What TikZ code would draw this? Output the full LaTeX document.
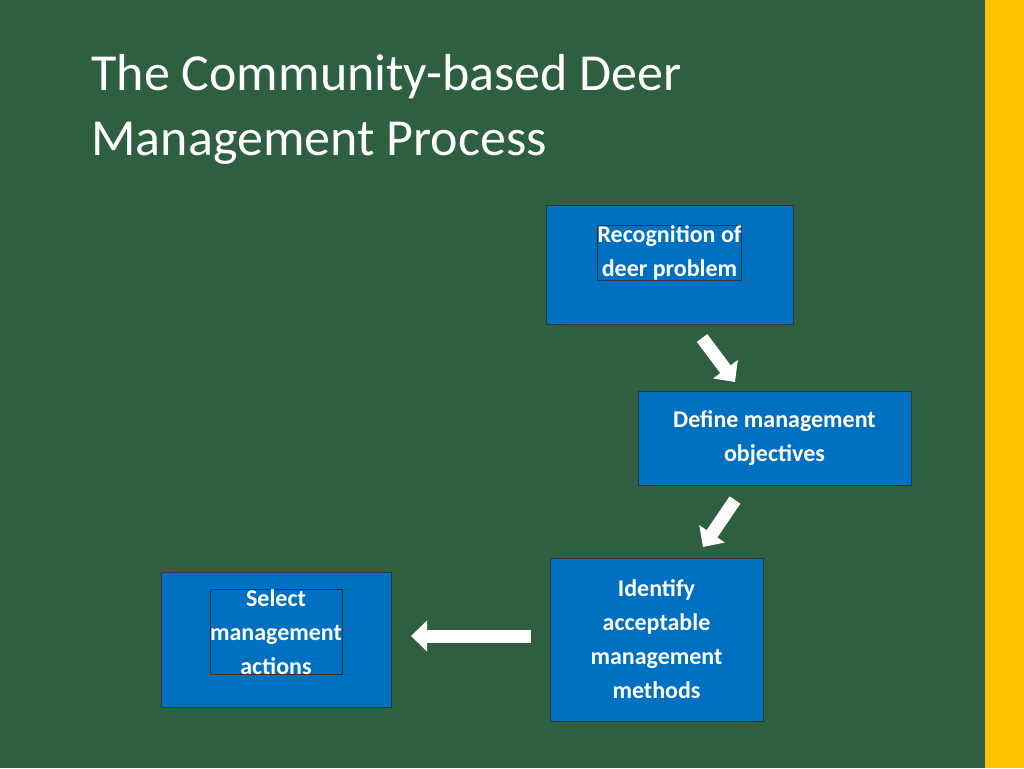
\documentclass[tikz,border=0pt]{standalone}
\usepackage{fontspec}
\setmainfont{Carlito}
\usetikzlibrary{arrows.meta}
\definecolor{bg}{HTML}{2E5F41}
\definecolor{bar}{HTML}{FFC000}
\definecolor{boxblue}{HTML}{0070C0}
\tikzset{
 pbox/.style={draw=black!80,line width=0.8pt,fill=boxblue,align=center,text=white,font=\fontsize{24}{34}\selectfont\bfseries,inner sep=0pt},
 blk/.style={draw=white,line width=13pt,-{Triangle[width=30pt,length=16pt]}}
}
\begin{document}
\begin{tikzpicture}[x=1pt,y=-1pt]
\useasboundingbox (0,0) rectangle (1024,768);
\fill[bg] (0,0) rectangle (1024,768);
\fill[bar] (985,0) rectangle (1024,768);
\node[anchor=base west,text=white,font=\fontsize{52}{65}\selectfont,align=left] (title) at (88,90) {The Community-based Deer};
\node[anchor=base west,text=white,font=\fontsize{52}{65}\selectfont] (title2) at (88,155) {Management Process};
\node[pbox,minimum width=247pt,minimum height=119pt] (b1) at (669.5,264.5) {};
\node[pbox,anchor=north] at (669.5,225) {Recognition of\\deer problem};
\node[pbox,minimum width=273pt,minimum height=94pt] (b2) at (774.5,438) {Define management\\objectives};
\node[pbox,minimum width=213pt,minimum height=163pt] (b3) at (656.5,639.5) {Identify\\acceptable\\management\\methods};
\node[pbox,minimum width=230pt,minimum height=135pt] (b4) at (276,639.5) {};
\node[pbox,anchor=north] at (276,589) {Select\\management\\actions};
\coordinate (a1s) at (702,338); \coordinate (a1e) at (735,382);
\coordinate (a2s) at (735,500); \coordinate (a2e) at (703,547);
\coordinate (a3s) at (531,636); \coordinate (a3e) at (411,636);
\draw[blk] (a1s) -- (a1e);
\draw[blk] (a2s) -- (a2e);
\draw[blk] (a3s) -- (a3e);
\end{tikzpicture}
\end{document}
